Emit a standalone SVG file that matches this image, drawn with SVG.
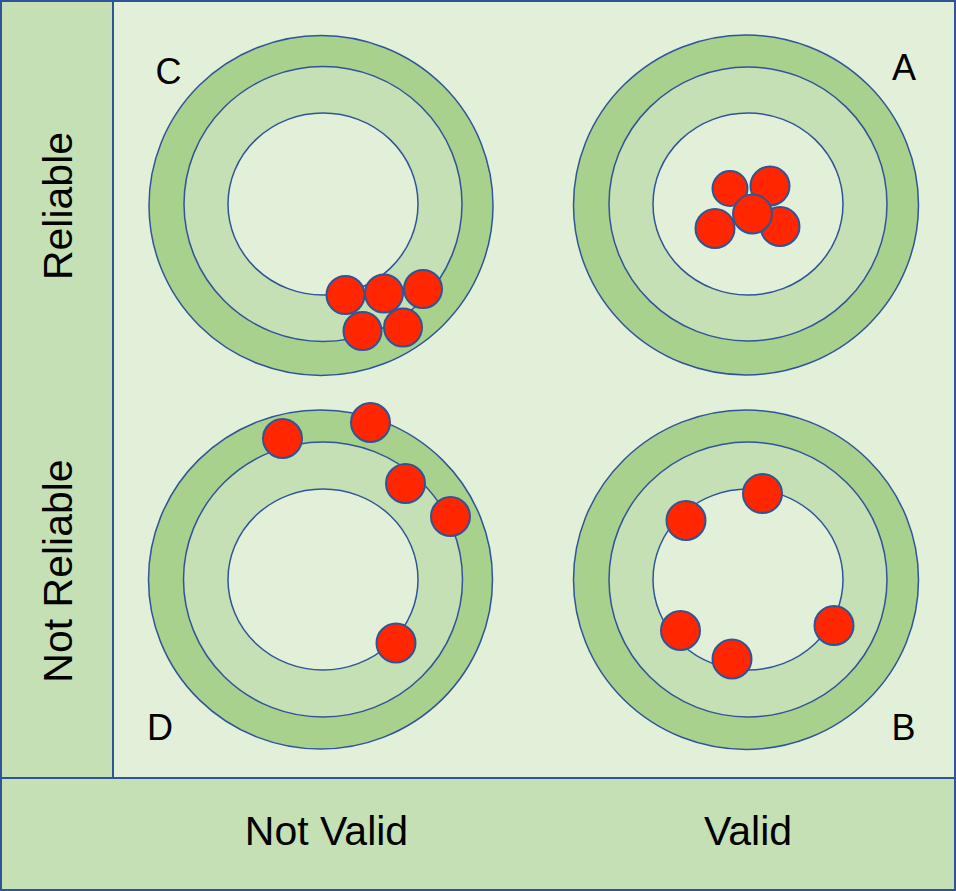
<svg xmlns="http://www.w3.org/2000/svg" width="956" height="891" viewBox="0 0 956 891">
<style>
.panel{stroke:#2F5597;stroke-width:2}
.outer{fill:#A9D18E;stroke:#2F5597;stroke-width:1.5}
.mid{fill:#C5E0B4;stroke:#2F5597;stroke-width:1.5}
.inner{fill:#E2F0D9;stroke:#2F5597;stroke-width:1.5}
.dot{fill:#FF2600;stroke:#2F5597;stroke-width:2}
.lbl{font-family:"Liberation Sans",Arial,sans-serif;fill:#000}
.big{font-size:41px}
.side{font-size:41px}
.let{font-size:36px}
</style>
<g id="frame">
<rect class="panel" x="113" y="1" width="842" height="777" fill="#E2F0D9"/>
<rect class="panel" x="1" y="1" width="112" height="777" fill="#C5E0B4"/>
<rect class="panel" x="1" y="778" width="954" height="112" fill="#C5E0B4"/>
</g>
<g id="axis-labels">
<text class="lbl side" text-anchor="middle" transform="translate(72,206) rotate(-90)">Reliable</text>
<text class="lbl side" text-anchor="middle" transform="translate(72,571) rotate(-90)">Not Reliable</text>
<text class="lbl big" x="326.5" y="845" text-anchor="middle">Not Valid</text>
<text class="lbl big" x="748" y="845" text-anchor="middle">Valid</text>
</g>
<g id="target-C">
<ellipse class="outer" cx="321" cy="205.5" rx="172" ry="170"/>
<ellipse class="mid" cx="323" cy="204" rx="139" ry="137.5"/>
<ellipse class="inner" cx="323" cy="204" rx="95" ry="91"/>
<circle class="dot" cx="345.5" cy="295" r="19"/>
<circle class="dot" cx="384" cy="293.5" r="19"/>
<circle class="dot" cx="423" cy="289" r="19"/>
<circle class="dot" cx="362.5" cy="331" r="19"/>
<circle class="dot" cx="403" cy="327.5" r="19"/>
<text class="lbl let" x="168.5" y="84" text-anchor="middle">C</text>
</g>
<g id="target-A">
<ellipse class="outer" cx="746" cy="205" rx="172.5" ry="170"/>
<ellipse class="mid" cx="748" cy="204" rx="139" ry="137"/>
<ellipse class="inner" cx="748" cy="204" rx="95" ry="91"/>
<circle class="dot" cx="730" cy="188.5" r="17.5"/>
<circle class="dot" cx="770" cy="186" r="19.5"/>
<circle class="dot" cx="715" cy="228.5" r="19.5"/>
<circle class="dot" cx="780" cy="226.5" r="19.5"/>
<circle class="dot" cx="752.5" cy="214" r="19.5"/>
<text class="lbl let" x="904" y="80" text-anchor="middle">A</text>
</g>
<g id="target-D">
<ellipse class="outer" cx="320.5" cy="579.5" rx="172" ry="169.5"/>
<ellipse class="mid" cx="323" cy="579.5" rx="139.5" ry="137.5"/>
<ellipse class="inner" cx="323" cy="579.5" rx="95" ry="90.5"/>
<circle class="dot" cx="282.5" cy="438.5" r="19.5"/>
<circle class="dot" cx="370.5" cy="422.5" r="19.5"/>
<circle class="dot" cx="405.5" cy="483.5" r="19.5"/>
<circle class="dot" cx="450.5" cy="516.5" r="19.5"/>
<circle class="dot" cx="396" cy="643" r="19.5"/>
<text class="lbl let" x="160" y="740" text-anchor="middle">D</text>
</g>
<g id="target-B">
<ellipse class="outer" cx="746" cy="579.7" rx="172.5" ry="169.7"/>
<ellipse class="mid" cx="748" cy="579.5" rx="139" ry="137.5"/>
<ellipse class="inner" cx="748" cy="579.5" rx="95" ry="90.5"/>
<circle class="dot" cx="762.5" cy="493.5" r="19.5"/>
<circle class="dot" cx="686" cy="520.5" r="19.5"/>
<circle class="dot" cx="680.5" cy="630.5" r="19.5"/>
<circle class="dot" cx="732" cy="659" r="19.5"/>
<circle class="dot" cx="834" cy="625.5" r="19.5"/>
<text class="lbl let" x="903.5" y="740" text-anchor="middle">B</text>
</g>
<g id="connectors"></g>
</svg>
